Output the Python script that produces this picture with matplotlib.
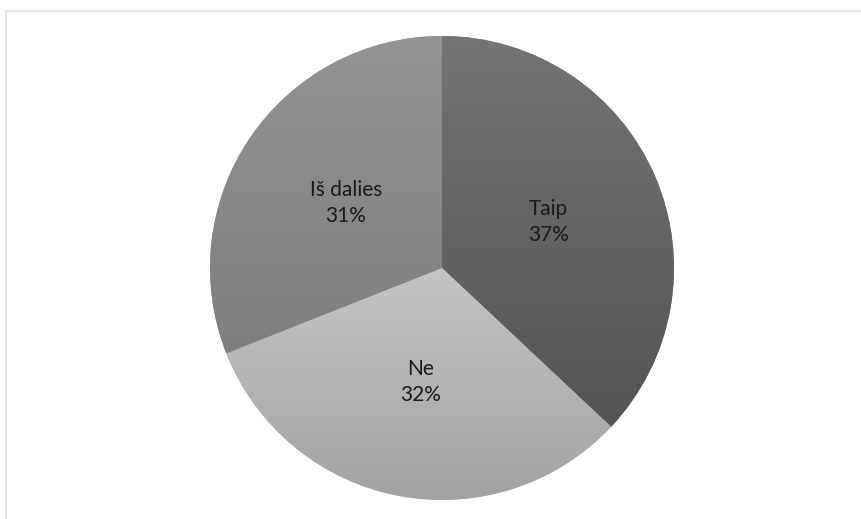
import numpy as np
import matplotlib
matplotlib.use("Agg")
import matplotlib.pyplot as plt
from matplotlib.lines import Line2D
from matplotlib.colors import LinearSegmentedColormap

# Survey answers and their shares (percent)
categories = ["Taip", "Ne", "Iš dalies"]
shares = [37, 32, 31]

# Vertical gradient (top colour, bottom colour) for each slice
slice_top = ["#747474", "#c4c4c4", "#949494"]
slice_bottom = ["#545454", "#a2a2a2", "#7e7e7e"]

W, H = 862, 519
fig = plt.figure(figsize=(W / 100, H / 100), dpi=100)
fig.patch.set_facecolor("white")
ax = fig.add_axes([0, 0, 1, 1])

cx, cy, R = 442, H - 268, 232
labels = [f"{c}\n{v}%" for c, v in zip(categories, shares)]
wedges, texts = ax.pie(
    shares,
    labels=labels,
    startangle=90,
    counterclock=False,
    center=(cx, cy),
    radius=R,
    labeldistance=0.5,
    colors=slice_top,
    frame=True,
    wedgeprops=dict(linewidth=0),
    textprops=dict(fontsize=15, family=["Lato", "DejaVu Sans"], color="#1a1a1a",
                   linespacing=1.4),
)
for t in texts:
    t.set_horizontalalignment("center")
    t.set_verticalalignment("center")

# Fill each slice with its vertical gradient, clipped to the wedge shape
for w, top, bot in zip(wedges, slice_top, slice_bottom):
    verts = w.get_patch_transform().transform(w.get_path().vertices)
    x0, x1 = verts[:, 0].min(), verts[:, 0].max()
    y0, y1 = verts[:, 1].min(), verts[:, 1].max()
    cmap = LinearSegmentedColormap.from_list("g", [bot, top])
    grad = np.linspace(0, 1, 256).reshape(-1, 1)
    im = ax.imshow(grad, cmap=cmap, extent=[x0, x1, y0, y1], origin="lower",
                   aspect="auto", zorder=w.get_zorder() + 0.1, interpolation="bilinear")
    im.set_clip_path(w)
for t in texts:
    t.set_zorder(5)

ax.set_xlim(0, W)
ax.set_ylim(0, H)
ax.set_aspect("equal")
ax.axis("off")

# Chart area frame (top and left edges visible)
border = "#dbe0e7"
fig.add_artist(Line2D([6.5 / W, 1], [1 - 11 / H, 1 - 11 / H], color=border, lw=1.2,
                      transform=fig.transFigure))
fig.add_artist(Line2D([6.5 / W, 6.5 / W], [0, 1 - 11 / H], color=border, lw=1.2,
                      transform=fig.transFigure))

fig.savefig("out.png", dpi=100, facecolor="white")
